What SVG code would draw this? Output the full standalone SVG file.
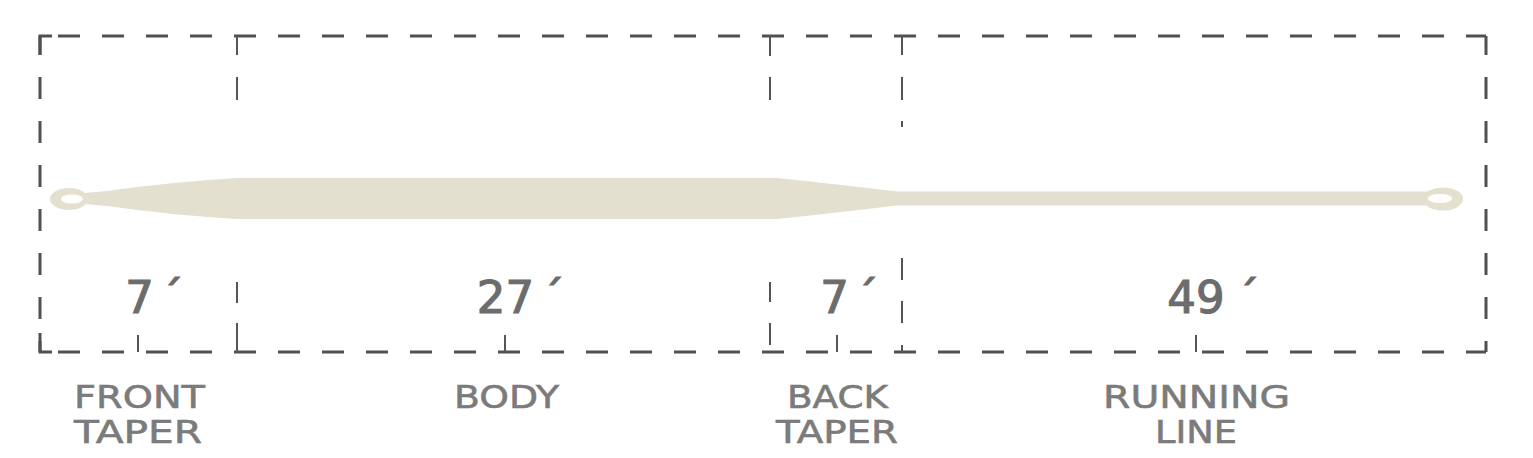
<svg xmlns="http://www.w3.org/2000/svg" width="1533" height="458" viewBox="0 0 1533 458">
  <style>
    .frame { fill: none; stroke: #505050; stroke-width: 3; }
    .dash { stroke-dasharray: 22 22; }
    .div { fill: none; stroke: #555555; stroke-width: 2; }
    .num { font-family: "DejaVu Sans", "Liberation Sans", sans-serif; font-size: 45px; fill: #6c6c6c; stroke: #6c6c6c; stroke-width: 1.2; text-anchor: middle; }
    .lbl { font-family: "DejaVu Sans", "Liberation Sans", sans-serif; font-size: 32px; fill: #7b7b7b; stroke: #7b7b7b; stroke-width: 0.6; text-anchor: middle; }
    .fly { fill: #e3e0d0; }
  </style>
  <rect width="1533" height="458" fill="#ffffff"/>

  <g id="fly-line">
    <path class="fly" d="M84,193 L107,191 Q170,182 237,178 L777,178 Q835,184 897,191.5 L1430,191.5 L1430,205.5 L897,205.5 Q835,213 777,219 L237,219 Q170,215 107,206 L84,204 Z"/>
    <ellipse class="fly" cx="69" cy="199" rx="19" ry="11"/>
    <ellipse cx="72" cy="199" rx="11" ry="4.5" fill="#ffffff"/>
    <ellipse class="fly" cx="1443" cy="199" rx="20" ry="11.5"/>
    <ellipse cx="1440" cy="198.5" rx="12" ry="4.5" fill="#ffffff"/>
  </g>

  <g id="connectors">
    <g id="frame">
      <path class="frame dash" stroke-dashoffset="26" d="M40,36 H1486"/>
      <path class="frame dash" stroke-dashoffset="26" d="M40,352 H1486"/>
      <path class="frame dash" stroke-dashoffset="3" d="M40,36 V352"/>
      <path class="frame dash" stroke-dashoffset="3" d="M1486,36 V352"/>
      <path class="frame" d="M40,55 V36 H52"/>
      <path class="frame" d="M40,333 V352 H52"/>
    </g>
    <g id="dividers">
      <path class="div" d="M237,36 V55 M237,77 V100 M237,282 V303 M237,323 V352"/>
      <path class="div" d="M770,36 V56 M770,77 V100 M770,282 V302 M770,323 V345"/>
      <path class="div" d="M902,36 V55 M902,77 V100 M902,121 V127 M902,258 V280 M902,301 V323 M902,345 V352"/>
    </g>
    <g id="ticks">
      <path class="div" d="M138,335 V352 M505,335 V352 M837,335 V352 M1196,335 V352"/>
    </g>
  </g>

  <g id="front-taper">
    <text class="num" y="313"><tspan x="139.5">7</tspan><tspan x="172">´</tspan></text>
    <text class="lbl" x="139.5" y="408" textLength="131" lengthAdjust="spacingAndGlyphs">FRONT</text>
    <text class="lbl" x="138" y="443" textLength="128" lengthAdjust="spacingAndGlyphs">TAPER</text>
  </g>
  <g id="body">
    <text class="num" y="313"><tspan x="505.5">27</tspan><tspan x="553">´</tspan></text>
    <text class="lbl" x="506.5" y="408" textLength="105" lengthAdjust="spacingAndGlyphs">BODY</text>
  </g>
  <g id="back-taper">
    <text class="num" y="313"><tspan x="834.5">7</tspan><tspan x="867">´</tspan></text>
    <text class="lbl" x="837.5" y="408" textLength="101" lengthAdjust="spacingAndGlyphs">BACK</text>
    <text class="lbl" x="837" y="443" textLength="122" lengthAdjust="spacingAndGlyphs">TAPER</text>
  </g>
  <g id="running-line">
    <text class="num" y="313"><tspan x="1196">49</tspan><tspan x="1248">´</tspan></text>
    <text class="lbl" x="1196.5" y="408" textLength="187" lengthAdjust="spacingAndGlyphs">RUNNING</text>
    <text class="lbl" x="1196" y="443" textLength="82" lengthAdjust="spacingAndGlyphs">LINE</text>
  </g>
</svg>
